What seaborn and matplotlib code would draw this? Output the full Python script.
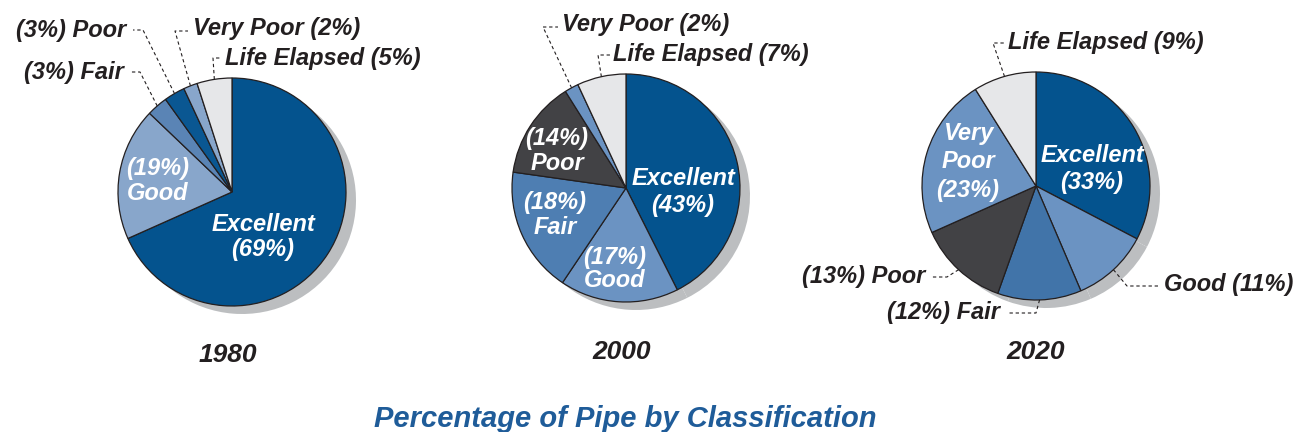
import numpy as np
import matplotlib.pyplot as plt
import seaborn as sns

sns.set_theme(style="white")
plt.rcParams['font.family'] = ['Liberation Sans', 'DejaVu Sans']

W, H = 1296, 432

# data
categories = ["Excellent", "Good", "Fair", "Poor", "Very Poor", "Life Elapsed"]
years = ["1980", "2000", "2020"]
pct_1980 = [69, 19, 3, 3, 2, 5]
pct_2000 = [43, 17, 18, 14, 2, 7]
pct_2020 = [33, 11, 12, 13, 23, 9]

colors_1980 = ["#04538E", "#88A6CB", "#5A84B5", "#0A5792", "#88A6CB", "#E6E7E9"]
colors_2000 = ["#04538E", "#6B93C2", "#4E7EB2", "#424245", "#6B93C2", "#E6E7E9"]
colors_2020 = ["#04538E", "#6B93C2", "#4174A9", "#424245", "#6B93C2", "#E6E7E9"]

DARK = "#231F20"
SHADOW = "#BCBEC0"
R = 114

# layout (pixel coords from top-left)
centers = [(232, 192), (626, 188), (1036, 186)]
year_pos = [(228, 355), (622, 352), (1036, 352)]

# inside labels: (category idx, template, x, y, line spacing)
inside = [
    [(1, "({v}%)\n{c}", 158, 181, 1.12), (0, "{c}\n({v}%)", 263, 237, 1.15)],
    [(3, "({v}%)\n{c}", 557, 151, 1.1), (2, "({v}%)\n{c}", 555, 215, 1.1),
     (1, "({v}%)\n{c}", 615, 269, 1.0), (0, "{c}\n({v}%)", 683, 192, 1.25)],
    [(4, "Very\nPoor\n({v}%)", 968, 162, 1.3), (0, "{c}\n({v}%)", 1092, 169, 1.2)],
]

# outside labels: (category idx, template, text x, text y, ha, elbow, end)
outside = [
    [(3, "({v}%) {c}", 126, 31, "right", (143, 30), (133, 30)),
     (2, "({v}%) {c}", 124, 72, "right", (140, 72), (130, 72)),
     (4, "{c} ({v}%)", 193, 29, "left", (175, 31), (188, 31)),
     (5, "{c} ({v}%)", 225, 59, "left", (213, 58), (220, 58))],
    [(4, "{c} ({v}%)", 562, 25, "left", (543, 27), (558, 27)),
     (5, "{c} ({v}%)", 613, 55, "left", (598, 55), (610, 55))],
    [(5, "{c} ({v}%)", 1008, 42, "left", (993, 43), (1005, 43)),
     (3, "({v}%) {c}", 925, 277, "right", (947, 277), (932, 277)),
     (2, "({v}%) {c}", 1000, 313, "right", (1036, 313), (1007, 313)),
     (1, "{c} ({v}%)", 1164, 284, "left", (1127, 286), (1158, 286))],
]

all_pct = [pct_1980, pct_2000, pct_2020]
all_colors = [colors_1980, colors_2000, colors_2020]

fig = plt.figure(figsize=(W / 100, H / 100), dpi=100)
ax = fig.add_axes([0, 0, 1, 1])

txt = dict(fontsize=17, fontweight="bold", fontstyle="italic")

for i, year in enumerate(years):
    cx, cy = centers[i]
    vals = all_pct[i]
    # drop shadow
    ax.pie(vals, colors=[SHADOW] * len(vals), startangle=90, counterclock=False,
           center=(cx + 10, H - cy - 8), radius=R,
           wedgeprops=dict(linewidth=0), frame=True)
    wedges, _ = ax.pie(vals, colors=all_colors[i], startangle=90, counterclock=False,
                       center=(cx, H - cy), radius=R, frame=True,
                       wedgeprops=dict(edgecolor=DARK, linewidth=0.9))

    for k, tmpl, x, y, ls in inside[i]:
        ax.text(x, H - y, tmpl.format(v=vals[k], c=categories[k]), color="white",
                ha="center", va="center", linespacing=ls, **txt)

    for k, tmpl, x, y, ha, elbow, end in outside[i]:
        w = wedges[k]
        a = np.deg2rad((w.theta1 + w.theta2) / 2)
        rim = (cx + R * np.cos(a), H - cy + R * np.sin(a))
        xs = [rim[0], elbow[0], end[0]]
        ys = [rim[1], H - elbow[1], H - end[1]]
        ax.plot(xs, ys, color=DARK, lw=0.8, ls=(0, (3, 2.5)))
        ax.text(x, H - y, tmpl.format(v=vals[k], c=categories[k]), color=DARK,
                ha=ha, va="center", **txt)

    ax.text(year_pos[i][0], H - year_pos[i][1], year, color=DARK, ha="center",
            va="center", fontsize=19, fontweight="bold", fontstyle="italic")

ax.text(625, H - 419, "Percentage of Pipe by Classification", color="#1F5C99",
        ha="center", va="center", fontsize=21, fontweight="bold", fontstyle="italic")

ax.set_xlim(0, W)
ax.set_ylim(0, H)
ax.set_aspect("equal")
ax.axis("off")

fig.savefig("out.png", dpi=100)
